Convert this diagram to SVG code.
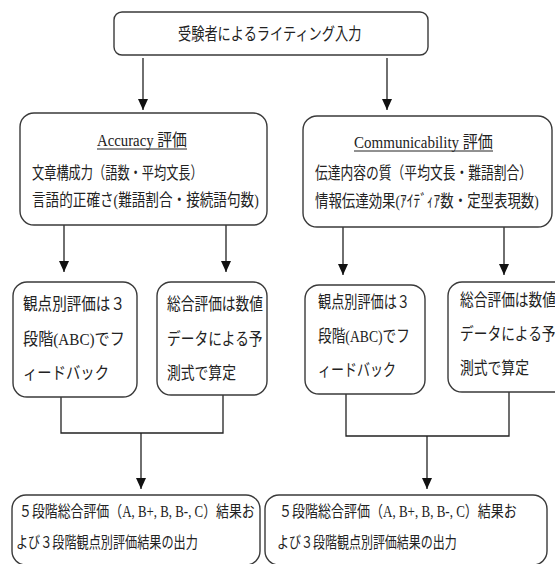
<svg xmlns="http://www.w3.org/2000/svg" width="555" height="564" viewBox="0 0 555 564">
<style>
.box{fill:#fff;stroke:#3a3a3a;stroke-width:1.4}
.t{font-family:"Liberation Serif","Noto Sans CJK JP",serif;font-size:16.5px;fill:#222}
.s{font-size:17px}
.b{font-size:16px}
.ln{stroke:#222;stroke-width:1.3;fill:none}
.ul{stroke:#222;stroke-width:1}
</style>
<defs>
<marker id="ah" markerUnits="userSpaceOnUse" markerWidth="10" markerHeight="12" refX="5" refY="11" orient="0" viewBox="0 0 10 12">
<path d="M0,0 L10,0 L5,11 z" fill="#111"/>
</marker>
</defs>
<rect width="555" height="564" fill="#fff"/>
<g id="connectors">
<path class="ln" d="M143,58 V110" marker-end="url(#ah)"/>
<path class="ln" d="M387,58 V110" marker-end="url(#ah)"/>
<path class="ln" d="M64,225 V272" marker-end="url(#ah)"/>
<path class="ln" d="M226,225 V272" marker-end="url(#ah)"/>
<path class="ln" d="M343,227 V275" marker-end="url(#ah)"/>
<path class="ln" d="M504,227 V275" marker-end="url(#ah)"/>
<path class="ln" d="M61,397 V433 H223 V395"/>
<path class="ln" d="M141,433 V489" marker-end="url(#ah)"/>
<path class="ln" d="M346,394 V436 H509 V392"/>
<path class="ln" d="M427,436 V489" marker-end="url(#ah)"/>
</g>
<g id="input">
<rect class="box" x="114" y="12" width="314" height="43" rx="8"/>
<text class="t" transform="translate(178,40) scale(0.801,1)">受験者によるライティング入力</text>
</g>
<g id="accuracy">
<rect class="box" x="20" y="113" width="247" height="112" rx="14"/>
<text class="t" transform="translate(97,146) scale(0.897,1)">Accuracy 評価</text>
<line class="ul" x1="97" y1="149" x2="187" y2="149"/>
<text class="t" transform="translate(32,179) scale(0.740,1)">文章構成力（語数・平均文長）</text>
<text class="t" transform="translate(32,206) scale(0.8255,1)">言語的正確さ(難語割合・接続語句数)</text>
</g>
<g id="communicability">
<rect class="box" x="303" y="116" width="249" height="111" rx="14"/>
<text class="t" transform="translate(354,148) scale(0.911,1)">Communicability 評価</text>
<line class="ul" x1="354" y1="151" x2="493" y2="151"/>
<text class="t" transform="translate(315,179) scale(0.774,1)">伝達内容の質（平均文長・難語割合）</text>
<text class="t" transform="translate(315,207) scale(0.8145,1)">情報伝達効果(ｱｲﾃﾞｨｱ数・定型表現数)</text>
</g>
<g id="acc-feedback">
<rect class="box" x="13" y="282" width="124" height="115" rx="14"/>
<text class="t s" transform="translate(23,310) scale(0.857,1)">観点別評価は３</text>
<text class="t s" transform="translate(23,345) scale(0.892,1)">段階(ABC)でフ</text>
<text class="t s" transform="translate(23,379) scale(0.843,1)">ィードバック</text>
</g>
<g id="acc-total">
<rect class="box" x="157" y="282" width="110" height="113" rx="14"/>
<text class="t s" transform="translate(167,310) scale(0.807,1)">総合評価は数値</text>
<text class="t s" transform="translate(167,345) scale(0.807,1)">データによる予</text>
<text class="t s" transform="translate(167,379) scale(0.812,1)">測式で算定</text>
</g>
<g id="com-feedback">
<rect class="box" x="305" y="285" width="120" height="109" rx="14"/>
<text class="t s" transform="translate(318,308) scale(0.773,1)">観点別評価は３</text>
<text class="t s" transform="translate(318,342) scale(0.805,1)">段階(ABC)でフ</text>
<text class="t s" transform="translate(318,376) scale(0.765,1)">ィードバック</text>
</g>
<g id="com-total">
<rect class="box" x="448" y="282" width="120" height="110" rx="14"/>
<text class="t s" transform="translate(460,306) scale(0.807,1)">総合評価は数値</text>
<text class="t s" transform="translate(460,340) scale(0.807,1)">データによる予</text>
<text class="t s" transform="translate(460,374) scale(0.812,1)">測式で算定</text>
</g>
<g id="acc-output">
<rect class="box" x="12" y="495" width="248" height="70" rx="14"/>
<text class="t b" transform="translate(19,517) scale(0.807,1)">５段階総合評価（A, B+, B, B-, C）結果お</text>
<text class="t b" transform="translate(16,548) scale(0.758,1)">よび３段階観点別評価結果の出力</text>
</g>
<g id="com-output">
<rect class="box" x="265" y="495" width="282" height="70" rx="14"/>
<text class="t b" transform="translate(279,517) scale(0.813,1)">５段階総合評価（A, B+, B, B-, C）結果お</text>
<text class="t b" transform="translate(277,548) scale(0.75,1)">よび３段階観点別評価結果の出力</text>
</g>
</svg>
